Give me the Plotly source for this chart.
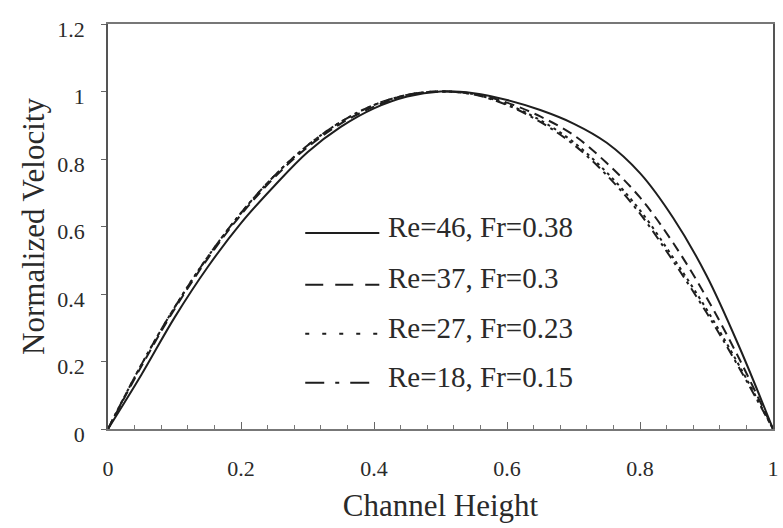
import plotly.graph_objects as go

# Data
channel_height = [0.0, 0.05, 0.10, 0.15, 0.20, 0.25, 0.30, 0.35, 0.40, 0.45, 0.50,
                  0.55, 0.60, 0.65, 0.70, 0.75, 0.80, 0.85, 0.90, 0.95, 1.0]
re46 = [0, 0.16, 0.33, 0.48, 0.61, 0.72, 0.82, 0.895, 0.95, 0.985, 1.0,
        0.995, 0.975, 0.945, 0.905, 0.848, 0.758, 0.625, 0.455, 0.24, 0]
re37 = [0, 0.185, 0.355, 0.505, 0.635, 0.745, 0.835, 0.905, 0.955, 0.99, 1.0,
        0.993, 0.967, 0.926, 0.871, 0.788, 0.686, 0.551, 0.39, 0.205, 0]
re27 = [0, 0.19, 0.36, 0.51, 0.64, 0.75, 0.84, 0.91, 0.96, 0.99, 1.0,
        0.992, 0.962, 0.915, 0.85, 0.76, 0.648, 0.507, 0.355, 0.185, 0]
re18 = [0, 0.19, 0.36, 0.51, 0.64, 0.75, 0.84, 0.91, 0.96, 0.99, 1.0,
        0.991, 0.96, 0.91, 0.843, 0.752, 0.638, 0.497, 0.345, 0.178, 0]

series_names = ["Re=46, Fr=0.38", "Re=37, Fr=0.3", "Re=27, Fr=0.23", "Re=18, Fr=0.15"]
series_values = [re46, re37, re27, re18]
curve_dashes = ["solid", "10px,6px", "3px,4px", "10px,5px,3px,5px"]
legend_dashes = ["solid", "18px,12px", "4px,13px", "19px,11px,4px,11px"]

x_ticks = [0, 0.2, 0.4, 0.6, 0.8, 1]
y_ticks = [0, 0.2, 0.4, 0.6, 0.8, 1, 1.2]

LINE = "#1e1e1e"
FONT = "Liberation Serif"
TXT = "#2a2a2a"

fig = go.Figure()
for name, vals, dash in zip(series_names, series_values, curve_dashes):
    fig.add_trace(go.Scatter(
        x=channel_height, y=vals, mode="lines", name=name,
        line=dict(color=LINE, width=2, dash=dash, shape="spline", smoothing=1.0),
        showlegend=False,
    ))

# Manual legend (line samples + labels) placed inside the plot area
legend_rows_y = [0.484, 0.356, 0.235, 0.114]
text_rows_y = [0.499, 0.373, 0.249, 0.128]
shapes = []
annotations = []
for name, dash, ly, ty in zip(series_names, legend_dashes, legend_rows_y, text_rows_y):
    shapes.append(dict(type="line", xref="paper", yref="paper",
                       x0=0.2966, x1=0.408, y0=ly, y1=ly,
                       line=dict(color=LINE, width=2, dash=dash)))
    annotations.append(dict(text=name, xref="paper", yref="paper", x=0.418, y=ty,
                            xanchor="left", yanchor="middle", showarrow=False,
                            font=dict(family=FONT, size=29, color=TXT)))

fig.update_layout(
    width=783, height=528,
    margin=dict(l=108, r=4, t=24, b=99),
    paper_bgcolor="white", plot_bgcolor="white",
    font=dict(family=FONT, color=TXT),
    shapes=shapes, annotations=annotations,
)
fig.update_xaxes(
    range=[0, 1], tickvals=x_ticks, ticktext=[f"{v:g}" for v in x_ticks],
    ticks="inside", ticklen=7, tickcolor="#666", tickwidth=1,
    minor=dict(dtick=0.04, tick0=0, ticks="inside", ticklen=4, tickcolor="#777"),
    showgrid=False, zeroline=False,
    showline=True, linecolor="#777", linewidth=1.5, mirror=True,
    tickfont=dict(family=FONT, size=22, color=TXT),
    ticklabelstandoff=19,
    title=dict(text="Channel Height", font=dict(family=FONT, size=31, color=TXT), standoff=14),
)
fig.update_yaxes(
    range=[0, 1.2], tickvals=y_ticks, ticktext=[f"{v:g}" for v in y_ticks],
    ticks="outside", ticklen=5, tickcolor="#666", tickwidth=1,
    showgrid=False, zeroline=False,
    showline=True, linecolor="#555", linewidth=1.5, mirror=True,
    tickfont=dict(family=FONT, size=22, color=TXT),
    ticklabelstandoff=12, ticklabelshift=5,
    title=dict(text="Normalized Velocity", font=dict(family=FONT, size=31, color=TXT), standoff=3),
)

fig.write_html("out.html")
